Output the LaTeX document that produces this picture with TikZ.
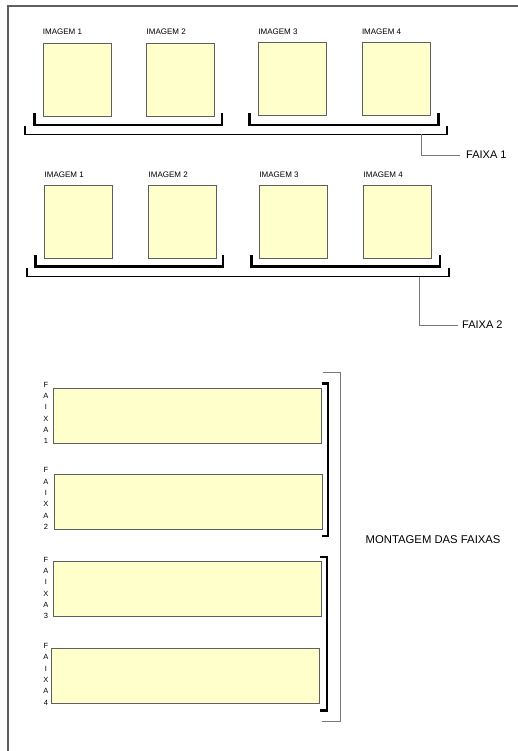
\documentclass[tikz,border=0pt]{standalone}
\usepackage{fontspec}
\setmainfont{Liberation Sans}
\usetikzlibrary{positioning}
\definecolor{papel}{RGB}{255,255,204}
\definecolor{contorno}{RGB}{95,95,95}
\definecolor{cinza}{RGB}{120,120,120}

\begin{document}
\begin{tikzpicture}[x=1pt,y=-1pt]
\tikzstyle{imgbox}=[draw=contorno,fill=papel,minimum width=68,minimum height=73,inner sep=0,outer sep=0]
\tikzstyle{faixabox}=[draw=contorno,fill=papel,minimum width=268,minimum height=55,inner sep=0,outer sep=0]
\tikzstyle{rotulo}=[font=\fontsize{8}{8}\selectfont,inner sep=0,anchor=south west]
\tikzstyle{letras}=[font=\fontsize{7.5}{11.3}\selectfont,align=center,inner sep=0]
\tikzstyle{chave}=[line width=2.6pt,black]
\tikzstyle{chavegrande}=[line width=1.8pt,black]
\tikzstyle{haste}=[line width=0.8pt,cinza]
\useasboundingbox (0,0) rectangle (518,751);
% moldura
\draw[line width=2pt,contorno] (7.5,751) -- (7.5,6) -- (518,6);
% faixa 1
\node[imgbox] (a1) at (76.7,79.5) {};
\node[imgbox] (a2) at (180.5,79.5) {};
\node[imgbox] (a3) at (292.2,79) {};
\node[imgbox] (a4) at (395.8,79) {};
\foreach \i in {1,...,4}
  \node[rotulo] at ([yshift=8]a\i.north west) {IMAGEM \i};
\draw[chave] ([xshift=-8.5,yshift=3]a1.south west) -- ([xshift=-8.5,yshift=-9]a1.south west) -- ([xshift=7.5,yshift=-9]a2.south east) -- ([xshift=7.5,yshift=3]a2.south east);
\draw[chave] ([xshift=-8.5,yshift=2]a3.south west) -- ([xshift=-8.5,yshift=-9.5]a3.south west) -- ([xshift=8.5,yshift=-9.5]a4.south east) -- ([xshift=8.5,yshift=2]a4.south east);
\draw[chavegrande] (25,126) -- (25,134.5) -- (447.3,134.5) -- (447.3,126);
\coordinate (h1) at (421,134.5);
\node[font=\fontsize{11}{12}\selectfont,anchor=west,inner sep=0] (f1) at (466,155) {FAIXA 1};
\draw[haste] (h1) |- ([xshift=-6]f1.west);
% faixa 2
\node[imgbox,minimum height=72.6] (c1) at (78.5,222) {};
\node[imgbox,minimum height=72.6] (c2) at (182.5,222) {};
\node[imgbox,minimum height=72.6] (c3) at (293.3,222) {};
\node[imgbox,minimum height=72.6] (c4) at (397.5,222) {};
\foreach \i in {1,...,4}
  \node[rotulo] at ([yshift=8]c\i.north west) {IMAGEM \i};
\draw[chave] ([xshift=-9,yshift=3]c1.south west) -- ([xshift=-9,yshift=-8.4]c1.south west) -- ([xshift=6.6,yshift=-8.4]c2.south east) -- ([xshift=6.6,yshift=3]c2.south east);
\draw[chave] ([xshift=-7.6,yshift=3]c3.south west) -- ([xshift=-7.6,yshift=-8.4]c3.south west) -- ([xshift=8.3,yshift=-8.4]c4.south east) -- ([xshift=8.3,yshift=3]c4.south east);
\draw[chavegrande] (26.7,268) -- (26.7,276.5) -- (449.3,276.5) -- (449.3,268);
\coordinate (h2) at (419.3,276.5);
\node[font=\fontsize{11}{12}\selectfont,anchor=west,inner sep=0] (f2) at (462,325) {FAIXA 2};
\draw[haste] (h2) |- ([xshift=-4]f2.west);
% montagem das faixas
\node[faixabox] (m1) at (187.5,415.8) {};
\node[faixabox] (m2) at (187.8,501.7) {};
\node[faixabox,minimum height=55.7] (m3) at (187.5,588.8) {};
\node[faixabox] (m4) at (185.5,675.2) {};
\foreach \i/\y in {1/413,2/498.5,3/588,4/674.3}
  \node[letras] (l\i) at (46,\y) {F\\A\\I\\X\\A\\\i};
\draw[chave] (321.7,383.3) -- (327.9,383.3) -- (327.9,536) -- (321.7,536);
\draw[chave] (320,557) -- (327,557) -- (327,710.7) -- (320,710.7);
\draw[haste] (322.7,372.7) -- (340.7,372.7) -- (340.7,721.7) -- (321.7,721.7);
\node[font=\fontsize{11.3}{12}\selectfont,anchor=west,inner sep=0] (mt) at (365.5,540) {MONTAGEM DAS FAIXAS};
\end{tikzpicture}
\end{document}
